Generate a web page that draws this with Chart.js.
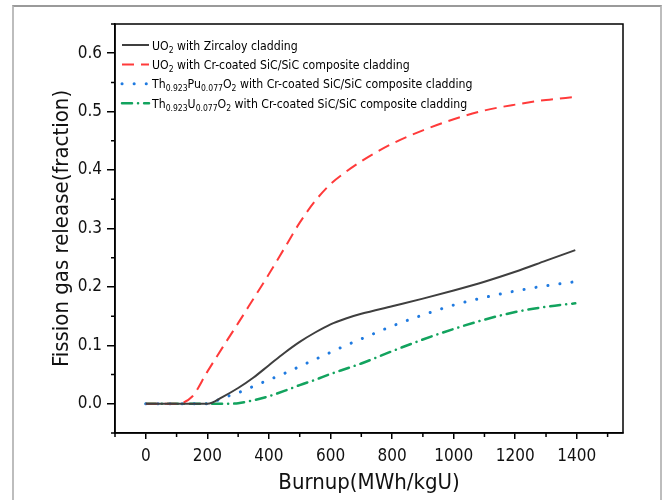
<!DOCTYPE html>
<html>
<head>
<meta charset="utf-8">
<title>Fission gas release vs burnup</title>
<script src="https://cdn.jsdelivr.net/npm/chart.js@4.4.1/dist/chart.umd.min.js"></script>
<style>
  html, body { margin: 0; padding: 0; background: #fff; }
  #wrap { position: relative; width: 663px; height: 500px; overflow: hidden; }
  #frame { position: absolute; left: 12px; top: 5px; width: 646px; height: 540px; border: 2px solid #bdbdbd; border-top-color: #9a9a9a; }
  canvas { position: absolute; left: 0; top: 0; }
</style>
</head>
<body>
<div id="wrap">
  <div id="frame"></div>
  <canvas id="fgr-chart" width="663" height="500"></canvas>
</div>
<script>
// --- Data: fission gas release (fraction) vs burnup (MWh/kgU) ---
const burnup     = [0, 50, 100, 150, 200, 250, 300, 350, 400, 450, 500, 550, 600, 650, 700, 800, 900, 1000, 1100, 1200, 1300, 1395];
const fgrUO2Zr   = [0, 0, 0, 0, 0, 0.012, 0.027, 0.045, 0.066, 0.087, 0.106, 0.122, 0.136, 0.146, 0.154, 0.167, 0.180, 0.194, 0.209, 0.226, 0.245, 0.263];
const fgrUO2SiC  = [0, 0, 0, 0.012, 0.055, 0.097, 0.138, 0.180, 0.222, 0.266, 0.310, 0.347, 0.376, 0.397, 0.415, 0.445, 0.468, 0.487, 0.502, 0.512, 0.520, 0.525];
const fgrThPuSiC = [0, 0, 0, 0, 0, 0.010, 0.019, 0.030, 0.041, 0.052, 0.064, 0.076, 0.088, 0.100, 0.111, 0.133, 0.152, 0.169, 0.182, 0.193, 0.202, 0.209];
const fgrThUSiC  = [0, 0, 0, 0, 0, 0, 0.001, 0.006, 0.013, 0.022, 0.032, 0.041, 0.051, 0.060, 0.069, 0.090, 0.110, 0.128, 0.144, 0.157, 0.166, 0.172];

// legend text, _{..} marks a subscript
const seriesLabels = [
  'UO_{2} with Zircaloy cladding',
  'UO_{2} with Cr-coated SiC/SiC composite cladding',
  'Th_{0.923}Pu_{0.077}O_{2} with Cr-coated SiC/SiC composite cladding',
  'Th_{0.923}U_{0.077}O_{2} with Cr-coated SiC/SiC composite cladding',
];

const xTicks = [0, 200, 400, 600, 800, 1000, 1200, 1400];
const xMinor = [-100, 100, 300, 500, 700, 900, 1100, 1300, 1500];
const yTicks = [0, 0.1, 0.2, 0.3, 0.4, 0.5, 0.6];
const yMinor = [-0.05, 0.05, 0.15, 0.25, 0.35, 0.45, 0.55, 0.65];

const NARROW = "'DejaVu Sans Condensed', 'Liberation Sans Narrow', 'Liberation Sans', sans-serif";

const toPoints = ys => burnup.map((x, i) => ({ x, y: ys[i] }));

// --- Plugins ---
// closes the axis box and adds the short minor ticks
const axisBox = {
  id: 'axisBox',
  afterDraw(chart) {
    const { ctx, chartArea: a, scales } = chart;
    ctx.save();
    ctx.strokeStyle = '#000';
    ctx.lineWidth = 1.5;
    ctx.strokeRect(a.left, a.top, a.right - a.left, a.bottom - a.top);
    ctx.beginPath();
    xMinor.forEach(v => {
      const px = scales.x.getPixelForValue(v);
      ctx.moveTo(px, a.bottom);
      ctx.lineTo(px, a.bottom + 4);
    });
    yMinor.forEach(v => {
      const py = scales.y.getPixelForValue(v);
      ctx.moveTo(a.left, py);
      ctx.lineTo(a.left - 4, py);
    });
    ctx.stroke();
    ctx.restore();
  },
};

function drawRichText(ctx, text, x, y, size, family) {
  text.split(/(_\{[^}]*\})/).forEach(part => {
    if (!part) return;
    const sub = part.startsWith('_{');
    const s = sub ? part.slice(2, -1) : part;
    ctx.font = `${sub ? size * 0.7 : size}px ${family}`;
    ctx.fillText(s, x, sub ? y + size * 0.25 : y);
    x += ctx.measureText(s).width;
  });
}

// legend with subscripted formulas, top left inside the plot
const formulaLegend = {
  id: 'formulaLegend',
  afterDraw(chart) {
    const { ctx, chartArea: a } = chart;
    const x0 = a.left + 7, rowGap = 19.4, size = 12.2;
    ctx.save();
    ctx.textBaseline = 'alphabetic';
    ctx.fillStyle = '#000';
    chart.data.datasets.forEach((ds, i) => {
      const y = a.top + 21 + i * rowGap;
      ctx.beginPath();
      ctx.strokeStyle = ds.borderColor;
      ctx.lineWidth = ds.borderWidth;
      ctx.lineCap = ds.borderCapStyle || 'butt';
      ctx.setLineDash(ds.borderDash || []);
      ctx.moveTo(x0, y);
      ctx.lineTo(x0 + 27, y);
      ctx.stroke();
      ctx.setLineDash([]);
      drawRichText(ctx, ds.label, x0 + 30, y + size * 0.38, size, NARROW);
    });
    ctx.restore();
  },
};

// --- Chart ---
const tickFont = { family: NARROW, size: 17 };
const titleFont = { family: NARROW, size: 22 };

new Chart(document.getElementById('fgr-chart'), {
  type: 'line',
  data: {
    datasets: [
      { label: seriesLabels[0], data: toPoints(fgrUO2Zr),   borderColor: '#3f3f3f', borderWidth: 2 },
      { label: seriesLabels[1], data: toPoints(fgrUO2SiC),  borderColor: '#ff3a3a', borderWidth: 2, borderDash: [12, 7] },
      { label: seriesLabels[2], data: toPoints(fgrThPuSiC), borderColor: '#1f7ae0', borderWidth: 3, borderDash: [0.1, 12], borderCapStyle: 'round' },
      { label: seriesLabels[3], data: toPoints(fgrThUSiC),  borderColor: '#12a35e', borderWidth: 2.5, borderDash: [10, 6, 0.1, 6], borderCapStyle: 'round' },
    ],
  },
  options: {
    responsive: false,
    animation: false,
    layout: { padding: { top: 24, right: 40, left: 0, bottom: 0 } },
    elements: { point: { radius: 0 }, line: { cubicInterpolationMode: 'monotone', fill: false } },
    scales: {
      x: {
        type: 'linear', min: -100, max: 1550,
        afterBuildTicks: s => { s.ticks = xTicks.map(v => ({ value: v })); },
        afterFit: s => { s.height = 67; },
        grid: { drawOnChartArea: false, color: '#000', lineWidth: 1.5, tickLength: 6 },
        border: { color: '#000', width: 1.5 },
        ticks: { color: '#111', font: tickFont, padding: 7, autoSkip: false, maxRotation: 0, callback: v => String(v) },
        title: { display: true, text: 'Burnup(MWh/kgU)', color: '#111', font: titleFont, padding: { top: 0, bottom: 4 } },
      },
      y: {
        type: 'linear', min: -0.05, max: 0.65,
        afterBuildTicks: s => { s.ticks = yTicks.map(v => ({ value: v })); },
        afterFit: s => { s.width = 115; },
        grid: { drawOnChartArea: false, color: '#000', lineWidth: 1.5, tickLength: 8 },
        border: { color: '#000', width: 1.5 },
        ticks: { color: '#111', font: tickFont, padding: 5, autoSkip: false, callback: v => v.toFixed(1) },
        title: { display: true, text: 'Fission gas release(fraction)', color: '#111', font: titleFont, padding: { top: 49, bottom: 0 } },
      },
    },
    plugins: {
      legend: { display: false },
      tooltip: { enabled: false },
    },
  },
  plugins: [axisBox, formulaLegend],
});
</script>
</body>
</html>
